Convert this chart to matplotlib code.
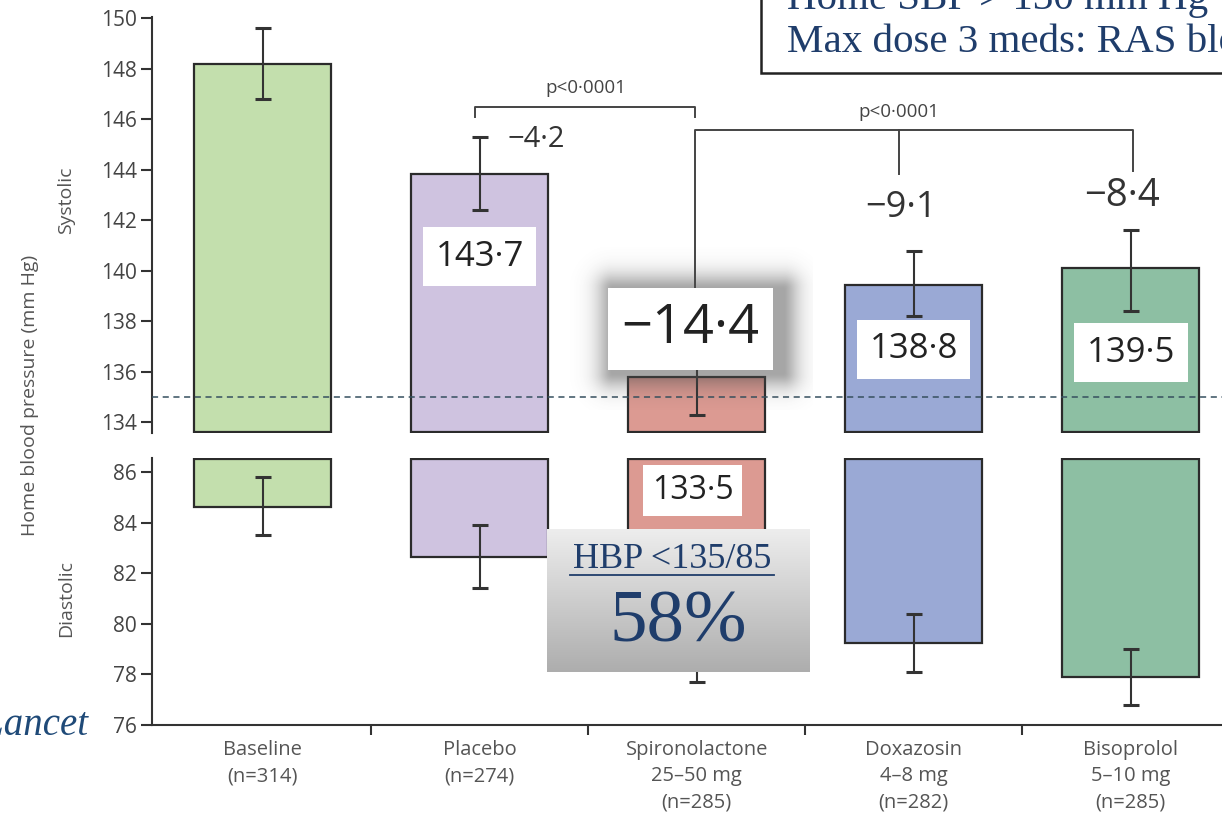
import numpy as np
import matplotlib.pyplot as plt
from matplotlib.patches import Rectangle

# groups along x
groups = ["Baseline\n(n=314)", "Placebo\n(n=274)", "Spironolactone\n25–50 mg\n(n=285)",
          "Doxazosin\n4–8 mg\n(n=282)", "Bisoprolol\n5–10 mg\n(n=285)"]
colors = ["#c3dfad", "#cfc3e0", "#dc9a92", "#9aa9d5", "#8dbfa3"]

# systolic
sys_mean = [148.2, 143.85, 135.8, 139.45, 140.1]
sys_lo = [146.8, 142.4, 134.3, 138.2, 138.4]
sys_hi = [149.6, 145.3, 137.2, 140.8, 141.6]

# diastolic
dia_mean = [84.6, 82.65, 79.0, 79.25, 77.9]
dia_lo = [83.5, 81.4, 77.7, 78.1, 76.8]
dia_hi = [85.8, 83.9, 80.3, 80.4, 79.0]

# printed values on the slide
end_labels = ["", "143·7", "", "138·8", "139·5"]
change_labels = ["", "−4·2", "−14·4", "−9·1", "−8·4"]
spiro_home = "133·5"
target = 135

sys_lim = (133.58, 150.05)
dia_lim = (76, 86.55)
sys_base = 133.62
dia_top = 86.5

W, H = 1222, 822
fig = plt.figure(figsize=(W / 100, H / 100), dpi=100)
plt.rcParams['font.family'] = ['Open Sans', 'DejaVu Sans']

left = 152 / W
ax_s = fig.add_axes([left, 1 - 433 / H, 1 - left, (433 - 17) / H])
ax_d = fig.add_axes([left, 1 - 725 / H, 1 - left, (725 - 458) / H])

x = np.arange(len(groups))
edge = "#2b2b2b"
tick_col = "#444444"

# systolic bars
ax_s.bar(x, np.array(sys_mean) - sys_base, bottom=sys_base, width=0.63,
         color=colors, edgecolor=edge, linewidth=1.6, zorder=2)
ax_s.errorbar(x, sys_mean, yerr=[np.array(sys_mean) - sys_lo, np.array(sys_hi) - sys_mean],
              fmt="none", ecolor="#333333", elinewidth=1.5, capsize=6, capthick=2.2, zorder=3)
ax_s.axhline(target, color="#36505f", lw=1.1, dashes=(4, 3), zorder=4)

# diastolic bars (hang down from the break)
ax_d.bar(x, dia_top - np.array(dia_mean), bottom=dia_mean, width=0.63,
         color=colors, edgecolor=edge, linewidth=1.6, zorder=2)
ax_d.errorbar(x, dia_mean, yerr=[np.array(dia_mean) - dia_lo, np.array(dia_hi) - dia_mean],
              fmt="none", ecolor="#333333", elinewidth=1.5, capsize=6, capthick=2.2, zorder=3)

for ax, lim, ticks in [(ax_s, sys_lim, np.arange(134, 151, 2)), (ax_d, dia_lim, np.arange(76, 87, 2))]:
    ax.set_xlim(-0.51, 4.42)
    ax.set_ylim(*lim)
    ax.set_yticks(ticks)
    ax.set_facecolor("none")
    for s in ["top", "right"]:
        ax.spines[s].set_visible(False)
    ax.spines["left"].set_color("#333333")
    ax.spines["left"].set_linewidth(1.5)
    ax.tick_params(axis="y", direction="out", length=8, width=1.5, color="#333333",
                   labelsize=15, labelcolor=tick_col, pad=3)

ax_s.spines["bottom"].set_visible(False)
ax_s.set_xticks([])
ax_d.spines["bottom"].set_color("#333333")
ax_d.spines["bottom"].set_linewidth(1.5)
ax_d.set_xticks(x)
ax_d.set_xticklabels(groups, fontsize=14.5, color="#555555", linespacing=1.4)
ax_d.tick_params(axis="x", length=0, pad=11)
ax_d.set_xticks(x[:-1] + 0.5, minor=True)
ax_d.tick_params(axis="x", which="minor", direction="out", length=7, width=1.5, color="#333333")

fig.text(30 / W, 1 - 395 / H, "Home blood pressure (mm Hg)", rotation=90, ha="center", va="center",
         fontsize=14, color="#555555")
fig.text(66 / W, 1 - 200 / H, "Systolic", rotation=90, ha="center", va="center", fontsize=14, color="#555555")
fig.text(66 / W, 1 - 598 / H, "Diastolic", rotation=90, ha="center", va="center", fontsize=14, color="#555555")

# end-of-treatment values in white boxes
box = dict(boxstyle="square,pad=0.36", facecolor="white", edgecolor="none")
lab_y = [0, 140.55, 0, 136.9, 136.75]
for i, t in enumerate(end_labels):
    if t:
        ax_s.text(x[i], lab_y[i], t, ha="center", va="center", fontsize=25, color="#222222",
                  bbox=box, zorder=6)
ax_d.text(x[2] - 0.02, 85.25, spiro_home, ha="center", va="center", fontsize=23, color="#222222",
          bbox=dict(boxstyle="square,pad=0.28", facecolor="white", edgecolor="none"), zorder=6)

# changes vs baseline
ax_s.text(x[1] + 0.26, 145.2, change_labels[1], ha="center", va="center", fontsize=21, color="#333333")
ax_s.text(x[3] - 0.06, 142.5, change_labels[3], ha="center", va="center", fontsize=26, color="#333333")
ax_s.text(x[4] - 0.04, 142.95, change_labels[4], ha="center", va="center", fontsize=27.5, color="#333333")
big = ax_s.text(x[2] - 0.03, 137.7, change_labels[2], ha="center", va="center", fontsize=39,
                color="#222222", bbox=dict(boxstyle="square,pad=0.25", facecolor="white", edgecolor="none"),
                zorder=7)

# p value brackets
br = dict(color="#444444", lw=1.4, zorder=3)
ax_s.plot([x[1] - 0.02, x[1] - 0.02, x[2] - 0.01, x[2] - 0.01], [146.1, 146.5, 146.5, 146.1], **br)
ax_s.text(1.49, 147.25, "p<0·0001", ha="center", va="center", fontsize=13.5, color="#444444")
ax_s.plot([x[2] - 0.01, x[2] - 0.01, x[4] + 0.01, x[4] + 0.01], [139.3, 145.57, 145.57, 143.97], **br)
ax_s.plot([x[3] - 0.07, x[3] - 0.07], [145.57, 143.85], **br)
ax_s.text(x[3] - 0.07, 146.3, "p<0·0001", ha="center", va="center", fontsize=13.5, color="#444444")

# soft shadow around the −14·4 box, heavier on the right
fig.canvas.draw()
bb = big.get_bbox_patch().get_window_extent()
m = 40
w, h = int(bb.width) + 2 * m, int(bb.height) + 2 * m
px = np.arange(w)[None, :] - m
py = np.arange(h)[:, None] - m
dx = np.maximum(np.maximum(4 - px, px - (bb.width + 10)), 0)
dy = np.maximum(np.maximum(-4 - py, py - (bb.height - 2)), 0)
d = np.sqrt(dx ** 2 + dy ** 2)
alpha = 0.5 * np.exp(-(d / 16.0) ** 1.6)
shadow = np.zeros((h, w, 4))
shadow[..., :3] = 0.3
shadow[..., 3] = alpha[::-1]
inv = ax_s.transData.inverted()
(x0, y0) = inv.transform((bb.x0 - m, bb.y0 - m))
(x1, y1) = inv.transform((bb.x0 - m + w, bb.y0 - m + h))
ax_s.imshow(shadow, extent=(x0, x1, y0, y1), aspect="auto", zorder=5, interpolation="bilinear")
ax_s.set_xlim(-0.51, 4.42)
ax_s.set_ylim(*sys_lim)

# HBP target callout with grey gradient
grad = np.linspace(0.93, 0.68, 100)[:, None] * np.ones((1, 10))
gx0, gx1 = 1.31, 2.52
gy0, gy1 = 78.1, 83.75
ax_d.imshow(np.dstack([grad, grad, grad]), extent=(gx0, gx1, gy0, gy1), aspect="auto", zorder=8)
ax_d.set_xlim(-0.51, 4.42)
ax_d.set_ylim(*dia_lim)
navy = "#1f3d6b"
ax_d.text((gx0 + gx1) / 2 - 0.03, 82.55, "HBP <135/85", ha="center", va="center", fontsize=26,
          family="Liberation Serif", color=navy, zorder=9)
ax_d.plot([1.415, 2.355], [81.92, 81.92], color=navy, lw=1.3, zorder=9)
ax_d.text((gx0 + gx1) / 2, 80.0, "58%", ha="center", va="center", fontsize=54,
          family="Liberation Serif", color=navy, zorder=9)

# inclusion criteria box (cut by the slide edge)
fig.patches.append(Rectangle((761 / W, 1 - 73 / H), 0.5, 0.2, transform=fig.transFigure,
                             facecolor="white", edgecolor="#222222", lw=1.8, zorder=5))
fig.text(787 / W, 1 - 9 / H, "Home SBP > 130 mm Hg", ha="left", va="baseline", fontsize=29.5,
         family="Liberation Serif", color=navy, zorder=6)
fig.text(787 / W, 1 - 52 / H, "Max dose 3 meds: RAS blocker", ha="left", va="baseline",
         fontsize=29.5, family="Liberation Serif", color=navy, zorder=6)

fig.text(88 / W, 1 - 735 / H, "The Lancet", ha="right", va="baseline", fontsize=28, style="italic",
         family="Liberation Serif", color="#1f4a78")

fig.savefig("out.png", dpi=100)
